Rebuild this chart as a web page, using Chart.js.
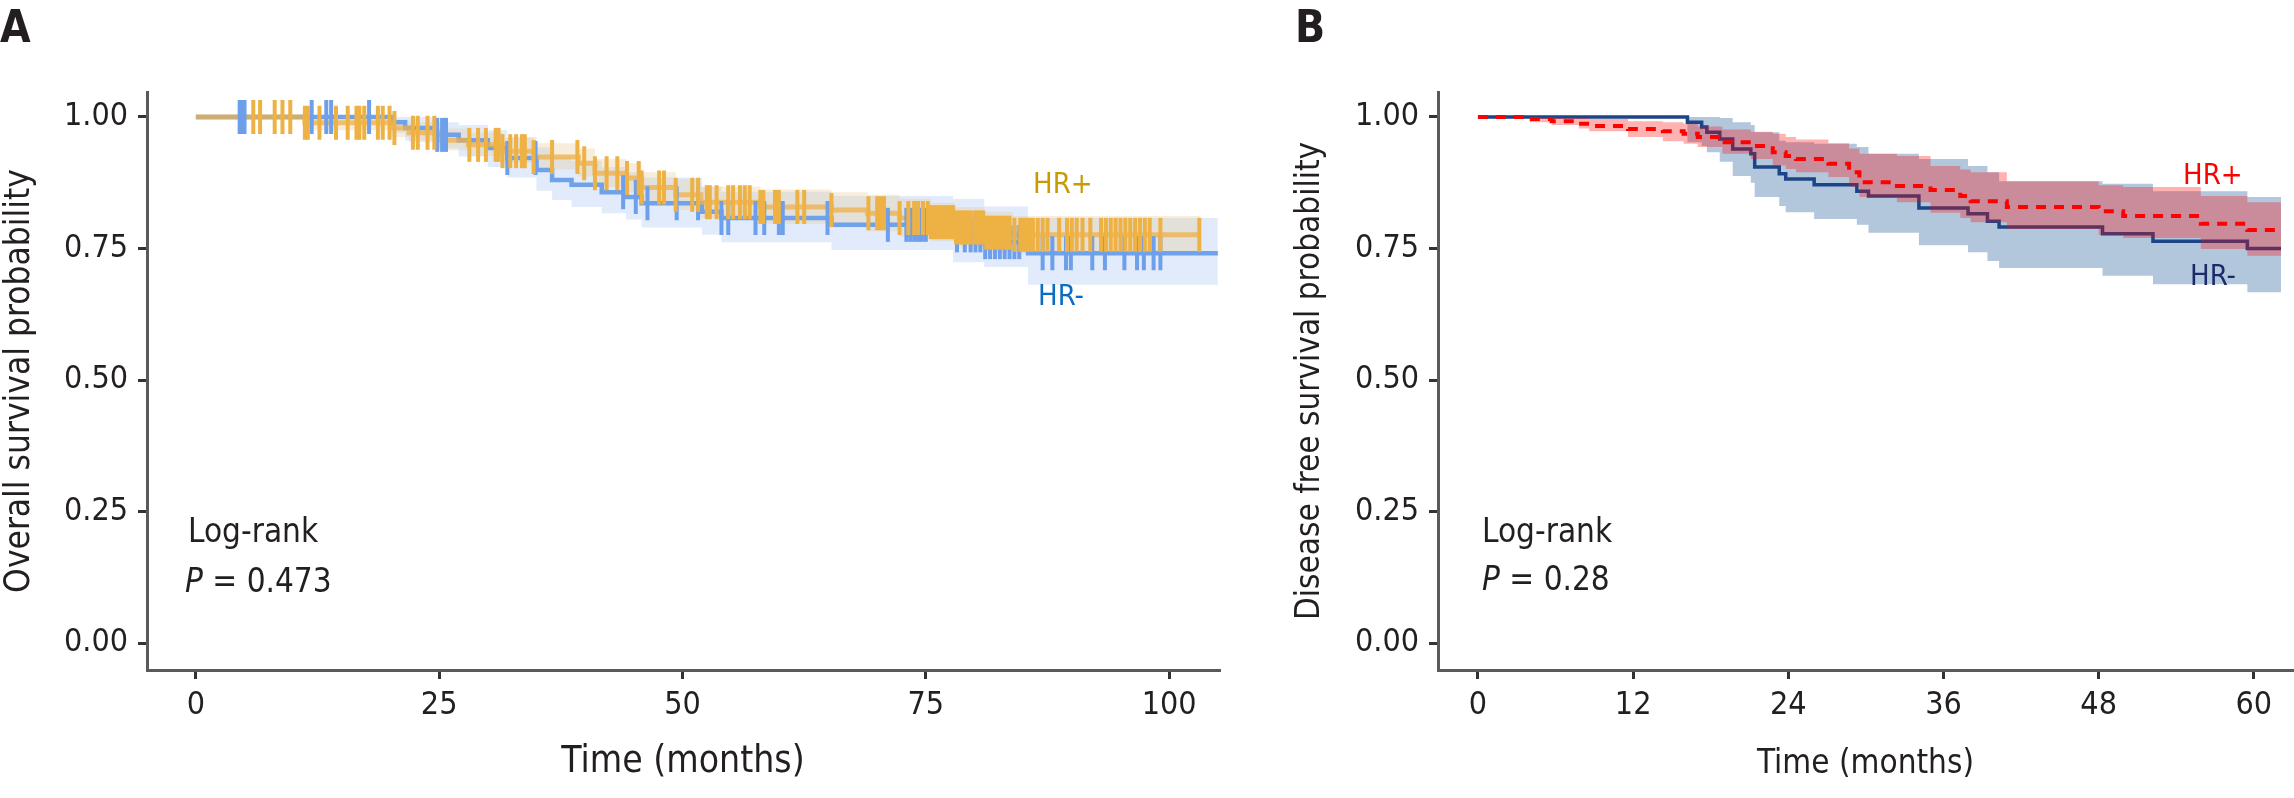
<!DOCTYPE html>
<html>
<head>
<meta charset="utf-8">
<script src="https://cdn.jsdelivr.net/npm/chart.js@4.4.0/dist/chart.umd.min.js"></script>
<style>
  body { margin: 0; background: #fff; }
  canvas { position: absolute; top: 0; }
  #chartA { left: 0; }
  #chartB { left: 1240px; }
</style>
</head>
<body>
<canvas id="chartA" width="1240" height="798"></canvas>
<canvas id="chartB" width="1054" height="798"></canvas>
<script>
// ---- Panel A: overall survival (months) ----
const timesAPos = [0, 11.2, 20.0, 21.9, 25.0, 28.0, 31.5, 34.7, 39.3, 41.0, 44.2, 45.8, 49.3, 51.9, 58.0, 65.3, 69.0, 72.3, 75.5, 78.0, 81.0, 84.0, 103.2];
const survAPos  = [1, 0.989, 0.979, 0.970, 0.956, 0.947, 0.935, 0.924, 0.912, 0.893, 0.884, 0.866, 0.852, 0.838, 0.829, 0.823, 0.817, 0.808, 0.800, 0.790, 0.780, 0.776, 0.776];
const lowerAPos = [1, 0.975, 0.962, 0.952, 0.937, 0.926, 0.913, 0.900, 0.887, 0.867, 0.857, 0.838, 0.823, 0.808, 0.797, 0.790, 0.783, 0.773, 0.764, 0.753, 0.742, 0.740, 0.740];
const upperAPos = [1, 1.0, 0.995, 0.990, 0.978, 0.970, 0.960, 0.950, 0.940, 0.920, 0.912, 0.895, 0.882, 0.868, 0.862, 0.857, 0.852, 0.845, 0.837, 0.829, 0.820, 0.812, 0.812];
const censorAPos = [5.9, 6.6, 8.1, 8.9, 9.7, 11.2, 11.5, 12.7, 14.4, 15.6, 16.5, 16.8, 17.3, 18.7, 19.2, 19.9, 20.4, 22.3, 22.8, 23.8, 24.5, 28.1, 29.0, 29.8, 30.8, 31.1, 31.5, 32.3, 32.9, 33.5, 33.8, 34.7, 36.6, 39.2, 39.9, 41.0, 42.2, 43.3, 44.3, 45.5, 45.8, 47.6, 48.1, 49.3, 51.0, 51.6, 52.5, 52.8, 53.5, 54.7, 55.2, 55.9, 56.4, 56.9, 58.0, 58.3, 59.5, 59.9, 61.8, 62.5, 65.3, 69.1, 70.0, 70.3, 70.7, 72.3, 73.2, 73.8, 74.2, 74.7, 75.2, 75.5, 75.8, 76.1, 76.4, 76.7, 77.0, 77.3, 77.6, 77.8, 78.1, 78.4, 78.7, 79.0, 79.3, 79.6, 80.0, 80.3, 80.6, 80.9, 81.2, 81.5, 81.8, 82.1, 82.4, 82.7, 83.0, 83.3, 83.6, 84.1, 84.7, 85.0, 85.3, 85.6, 86.0, 86.5, 87.0, 87.5, 88.7, 89.5, 90.0, 90.5, 91.1, 91.9, 93.0, 93.5, 94.0, 94.5, 95.0, 95.5, 96.0, 96.5, 97.0, 97.5, 98.0, 99.1, 103.1];

const timesANeg = [0, 20.2, 21.5, 24.7, 27.0, 30.0, 32.0, 35.0, 36.6, 38.6, 41.7, 44.2, 45.8, 52.0, 54.0, 65.3, 77.8, 81.0, 85.5, 105.0];
const survANeg  = [1, 0.990, 0.979, 0.966, 0.956, 0.941, 0.922, 0.899, 0.880, 0.871, 0.857, 0.848, 0.836, 0.820, 0.808, 0.795, 0.775, 0.762, 0.741, 0.741];
const lowerANeg = [1, 0.970, 0.955, 0.940, 0.925, 0.905, 0.885, 0.860, 0.842, 0.829, 0.817, 0.805, 0.790, 0.776, 0.762, 0.747, 0.724, 0.715, 0.681, 0.681];
const upperANeg = [1, 1.0, 1.0, 0.990, 0.985, 0.975, 0.962, 0.942, 0.925, 0.917, 0.905, 0.895, 0.885, 0.868, 0.858, 0.850, 0.844, 0.830, 0.808, 0.808];
const censorANeg = [4.5, 4.6, 4.7, 4.8, 4.9, 5.0, 11.9, 13.4, 13.9, 17.8, 24.8, 25.3, 25.7, 32.0, 34.9, 43.9, 45.2, 46.4, 49.4, 51.6, 54.0, 54.7, 57.5, 58.4, 59.9, 60.3, 64.9, 71.1, 73.0, 73.4, 73.8, 74.2, 74.6, 75.0, 78.2, 79.0, 79.6, 80.1, 80.6, 81.1, 81.6, 82.1, 82.6, 83.1, 83.6, 84.1, 84.6, 87.0, 88.0, 89.4, 89.9, 92.1, 93.4, 95.4, 96.7, 97.4, 98.4, 99.1];

const ticksAX = [0, 25, 50, 75, 100];

// ---- Panel B: disease free survival (months) ----
const timesBNeg = [0, 16.2, 17.3, 17.7, 18.7, 19.7, 21.1, 21.4, 23.3, 23.8, 26.0, 29.3, 30.2, 34.1, 37.9, 39.4, 40.3, 48.3, 52.2, 59.5, 62.1];
const survBNeg  = [1, 0.990, 0.981, 0.971, 0.958, 0.939, 0.930, 0.905, 0.892, 0.882, 0.871, 0.859, 0.850, 0.827, 0.816, 0.802, 0.791, 0.778, 0.764, 0.750, 0.750];
const lowerBNeg = [1, 0.952, 0.945, 0.933, 0.915, 0.888, 0.875, 0.848, 0.831, 0.819, 0.806, 0.795, 0.780, 0.756, 0.743, 0.726, 0.713, 0.698, 0.682, 0.667, 0.667];
const upperBNeg = [1, 1.0, 1.0, 1.0, 0.998, 0.990, 0.985, 0.971, 0.955, 0.952, 0.949, 0.943, 0.930, 0.920, 0.907, 0.895, 0.878, 0.873, 0.859, 0.848, 0.848];

const timesBPos = [0, 4.0, 5.7, 7.8, 8.6, 11.6, 14.3, 15.9, 17.0, 18.9, 21.1, 22.8, 23.8, 24.6, 27.1, 28.7, 29.5, 32.4, 35.0, 37.3, 38.1, 40.9, 48.0, 49.9, 55.9, 59.5, 62.1];
const survBPos  = [1, 0.996, 0.992, 0.987, 0.983, 0.977, 0.973, 0.968, 0.962, 0.952, 0.945, 0.933, 0.926, 0.920, 0.911, 0.895, 0.876, 0.869, 0.861, 0.850, 0.840, 0.829, 0.821, 0.812, 0.797, 0.785, 0.785];
const lowerBPos = [1, 0.990, 0.985, 0.978, 0.973, 0.962, 0.954, 0.949, 0.943, 0.930, 0.920, 0.908, 0.901, 0.895, 0.886, 0.868, 0.848, 0.838, 0.818, 0.808, 0.800, 0.787, 0.776, 0.770, 0.749, 0.736, 0.736];
const upperBPos = [1, 1.0, 1.0, 0.998, 0.996, 0.992, 0.990, 0.987, 0.982, 0.976, 0.972, 0.968, 0.962, 0.957, 0.950, 0.940, 0.930, 0.926, 0.907, 0.900, 0.895, 0.878, 0.870, 0.867, 0.850, 0.838, 0.838];

const ticksBX = [0, 12, 24, 36, 48, 60];
const ticksY = [0, 0.25, 0.5, 0.75, 1];

const FONT = "'DejaVu Sans Condensed', 'DejaVu Sans', sans-serif";
const INK = '#231f20';

function pts(times, vals) {
  return times.map((t, i) => ({x: t, y: vals[i]}));
}
function survAt(times, vals, t) {
  let s = vals[0];
  for (let i = 0; i < times.length; i++) if (times[i] <= t) s = vals[i];
  return s;
}

function band(times, vals, order, fill, color) {
  return {
    data: pts(times, vals), stepped: true, borderWidth: 0, pointRadius: 0,
    borderColor: 'rgba(0,0,0,0)', backgroundColor: color, fill: fill, order: order
  };
}
function curve(times, vals, order, color, width, dash) {
  return {
    data: pts(times, vals), stepped: true, borderWidth: width, pointRadius: 0,
    borderColor: color, borderDash: dash || [], fill: false, order: order
  };
}
function censor(times, vals, marks, order, color) {
  return {
    data: marks.map(t => ({x: t, y: survAt(times, vals, t)})),
    showLine: false, pointStyle: 'line', pointRotation: 90, pointRadius: 17,
    pointHoverRadius: 17, pointBorderWidth: 4, pointBorderColor: color, order: order
  };
}

// draws panel letters, log-rank notes and group labels
const panelText = {
  id: 'panelText',
  afterDraw(chart, args, opts) {
    const ctx = chart.ctx;
    opts.items.forEach(it => {
      ctx.save();
      ctx.fillStyle = it.color || INK;
      ctx.textAlign = 'left';
      ctx.textBaseline = 'alphabetic';
      let x = it.x;
      it.parts.forEach(p => {
        ctx.font = p[1];
        ctx.fillText(p[0], x, it.y);
        x += ctx.measureText(p[0]).width;
      });
      ctx.restore();
    });
  }
};

function panel(id, cfg) {
  return new Chart(document.getElementById(id), {
    type: 'line',
    data: {datasets: cfg.datasets},
    plugins: [panelText],
    options: {
      responsive: false, animation: false, devicePixelRatio: 1, events: [],
      layout: {padding: {top: 92, right: cfg.padRight, bottom: 0, left: 0}},
      plugins: {legend: {display: false}, tooltip: {enabled: false}, panelText: {items: cfg.text}},
      scales: {
        x: {
          type: 'linear', min: cfg.xMin, max: cfg.xMax,
          afterBuildTicks: s => { s.ticks = cfg.xTicks.map(v => ({value: v})); },
          afterFit: s => { s.height = 128; },
          ticks: {font: {family: FONT, size: 32}, color: INK, padding: 7, maxRotation: 0, autoSkip: false},
          grid: {display: true, drawOnChartArea: false, drawTicks: true, tickLength: 9, color: '#333', lineWidth: 3},
          border: {display: true, color: '#5a5a5a', width: 3},
          title: {display: true, text: 'Time (months)', color: INK,
                  font: {family: FONT, size: cfg.xTitleSize, lineHeight: 1}, padding: {top: 0, bottom: 17}}
        },
        y: {
          min: -0.0513, max: 1.0475,
          afterBuildTicks: s => { s.ticks = ticksY.map(v => ({value: v})); },
          afterFit: s => { s.width = cfg.yWidth; },
          ticks: {font: {family: FONT, size: 32}, color: INK, padding: 10, callback: v => v.toFixed(2)},
          grid: {display: true, drawOnChartArea: false, drawTicks: true, tickLength: 9, color: '#333', lineWidth: 3},
          border: {display: true, color: '#5a5a5a', width: 3},
          title: {display: true, text: cfg.yTitle, color: INK,
                  font: {family: FONT, size: cfg.yTitleSize, lineHeight: 1}, padding: {top: cfg.yTitlePad, bottom: 0}}
        }
      }
    }
  });
}

const f33 = '33px ' + FONT;
const f33i = 'italic 33px ' + FONT;
const fLetter = 'bold 44px ' + FONT;
const fGroup = '29px ' + FONT;

panel('chartA', {
  datasets: [
    band(timesANeg, lowerANeg, 9, false, 'rgba(0,0,0,0)'),
    band(timesANeg, upperANeg, 8, 0, 'rgba(120,165,235,0.22)'),
    band(timesAPos, lowerAPos, 7, false, 'rgba(0,0,0,0)'),
    band(timesAPos, upperAPos, 6, 2, 'rgba(232,196,140,0.3)'),
    curve(timesANeg, survANeg, 5, '#6fa2ea', 4.5),
    curve(timesAPos, survAPos, 4, 'rgba(237,176,74,0.75)', 5),
    censor(timesANeg, survANeg, censorANeg, 3, '#6d9fea'),
    censor(timesAPos, survAPos, censorAPos, 2, '#eeb143')
  ],
  xMin: -5.02, xMax: 105.12, xTicks: ticksAX, padRight: 18, yWidth: 147,
  yTitle: 'Overall survival probability', yTitleSize: 35, yTitlePad: 2.5, xTitleSize: 37,
  text: [
    {x: 0, y: 42, parts: [['A', fLetter]]},
    {x: 188, y: 542, parts: [['Log-rank', f33]]},
    {x: 185, y: 592, parts: [['P', f33i], [' = 0.473', f33]]},
    {x: 1033, y: 193, color: '#c89b00', parts: [['HR+', fGroup]]},
    {x: 1038, y: 305, color: '#0a6cc2', parts: [['HR-', fGroup]]}
  ]
});

panel('chartB', {
  datasets: [
    band(timesBNeg, lowerBNeg, 9, false, 'rgba(0,0,0,0)'),
    band(timesBNeg, upperBNeg, 8, 0, 'rgba(2,68,138,0.3)'),
    curve(timesBNeg, survBNeg, 7, '#1c4587', 3.5),
    band(timesBPos, lowerBPos, 6, false, 'rgba(0,0,0,0)'),
    band(timesBPos, upperBPos, 5, 3, 'rgba(255,0,0,0.3)'),
    curve(timesBPos, survBPos, 4, '#ff0000', 4, [10, 8])
  ],
  xMin: -3.09, xMax: 63.03, xTicks: ticksBX, padRight: 1, yWidth: 198,
  yTitle: 'Disease free survival probability', yTitleSize: 33, yTitlePad: 53.5, xTitleSize: 33,
  text: [
    {x: 55, y: 42, parts: [['B', fLetter]]},
    {x: 242, y: 542, parts: [['Log-rank', f33]]},
    {x: 242, y: 590, parts: [['P', f33i], [' = 0.28', f33]]},
    {x: 943, y: 184, color: '#ff0000', parts: [['HR+', fGroup]]},
    {x: 950, y: 285, color: '#1b2a6b', parts: [['HR-', fGroup]]}
  ]
});
</script>
</body>
</html>
